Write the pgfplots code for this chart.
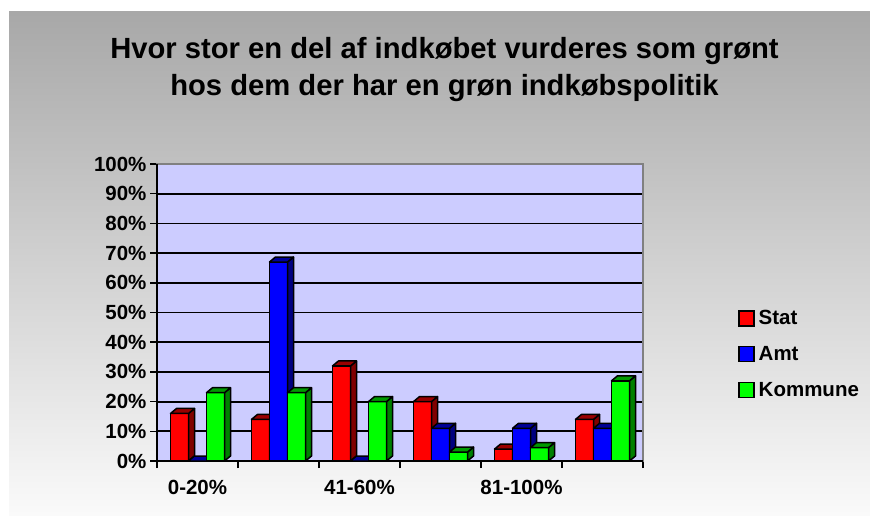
\documentclass[border=0pt]{standalone}
\usepackage{pgfplots}
\pgfplotsset{compat=1.18}
\usepackage{fontspec}
\setmainfont{Liberation Sans}
\definecolor{lav}{RGB}{204,204,255}
\definecolor{cR}{RGB}{255,0,0}
\definecolor{cB}{RGB}{0,0,255}
\definecolor{cG}{RGB}{0,255,0}
\definecolor{bgtop}{RGB}{168,168,168}
\definecolor{bgbot}{RGB}{250,250,250}
\pgfdeclareplotmark{empty}{}
\pgfplotsset{
  bar3d/.style n args={2}{
    scatter, only marks, mark=empty,
    visualization depends on={rawy \as \ry},
    scatter/@pre marker code/.code={%
      \pgfmathsetmacro\hh{\ry*2.97}%
      \fill[#1, draw=black, line width=1.5pt, line join=round] (#2-9pt,-\hh pt) rectangle (#2+9pt,0pt);
      \fill[#1!50!black, draw=black, line width=1.5pt, line join=round] (#2+9pt,-\hh pt) -- (#2+15pt,-\hh pt+5pt) -- (#2+15pt,5pt) -- (#2+9pt,0pt) -- cycle;
      \fill[#1!60!black, draw=black, line width=1.5pt, line join=round] (#2-9pt,0pt) -- (#2-3pt,5pt) -- (#2+15pt,5pt) -- (#2+9pt,0pt) -- cycle;
    },
    scatter/@post marker code/.code={},
    legend image code/.code={\draw[fill=#1,draw=black,line width=1.5pt] (0pt,-7.5pt) rectangle (15pt,7.5pt);}
  }
}
\pgfplotstableread{
x y
0 16
1 14
2 32
3 20
4 4
5 14
}\stat
\pgfplotstableread{
x y
0 0
1 67
2 0
3 11
4 11
5 11
}\amt
\pgfplotstableread{
x y
0 23
1 23
2 20
3 3
4 4.5
5 27
}\kommune
\begin{document}
\begin{tikzpicture}
\fill[white] (0pt,0pt) rectangle (870pt,515pt);
\shade[top color=bgtop, bottom color=bgbot] (9pt,0pt) rectangle (870pt,503pt);
\node[anchor=base, font=\bfseries\fontsize{29.2}{34}\selectfont] at (444.5pt,456pt) {Hvor stor en del af indkøbet vurderes som grønt};
\node[anchor=base, font=\bfseries\fontsize{29.2}{34}\selectfont] at (444.5pt,419pt) {hos dem der har en grøn indkøbspolitik};
\begin{axis}[
  at={(157pt,54pt)}, anchor=south west,
  scale only axis, width=486pt, height=297pt,
  xmin=-0.5, xmax=5.5, ymin=0, ymax=100,
  axis background/.style={fill=lav},
  axis line style={draw={rgb,255:red,128;green,128;blue,128}, line width=1.5pt},
  ytick={0,10,...,100},
  yticklabel={\pgfmathprintnumber{\tick}\%},
  /pgf/number format/assume math mode=true,
  ymajorgrids, major grid style={black, line width=1.8pt},
  xtick={0,2,4}, xticklabels={0-20\%,41-60\%,81-100\%},
  minor xtick={-0.5,0.5,...,5.5},
  every major x tick/.append style={draw=none},
  tick align=outside, major tick length=7pt, minor tick length=7pt,
  tick style={black, line width=1.5pt},
  xtick pos=bottom, ytick pos=left,
  tick label style={font=\bfseries\fontsize{20.5}{24}\selectfont},
  xticklabel style={yshift=-9pt},
  clip=false,
  legend style={draw=none, fill=none, at={(1.1955,0.36)}, anchor=west,
    font=\bfseries\fontsize{20.5}{24}\selectfont, row sep=16pt,
    inner sep=0pt, nodes={inner xsep=4pt}},
  legend cell align=left,
]
\draw[black, line width=2pt] (rel axis cs:0,1) -- (rel axis cs:0,0) -- (rel axis cs:1,0);
\addplot[bar3d={cR}{-18pt}] table {\stat};
\addlegendentry{Stat}
\addplot[bar3d={cB}{0pt}] table {\amt};
\addlegendentry{Amt}
\addplot[bar3d={cG}{18pt}] table {\kommune};
\addlegendentry{Kommune}
\end{axis}
\end{tikzpicture}
\end{document}
